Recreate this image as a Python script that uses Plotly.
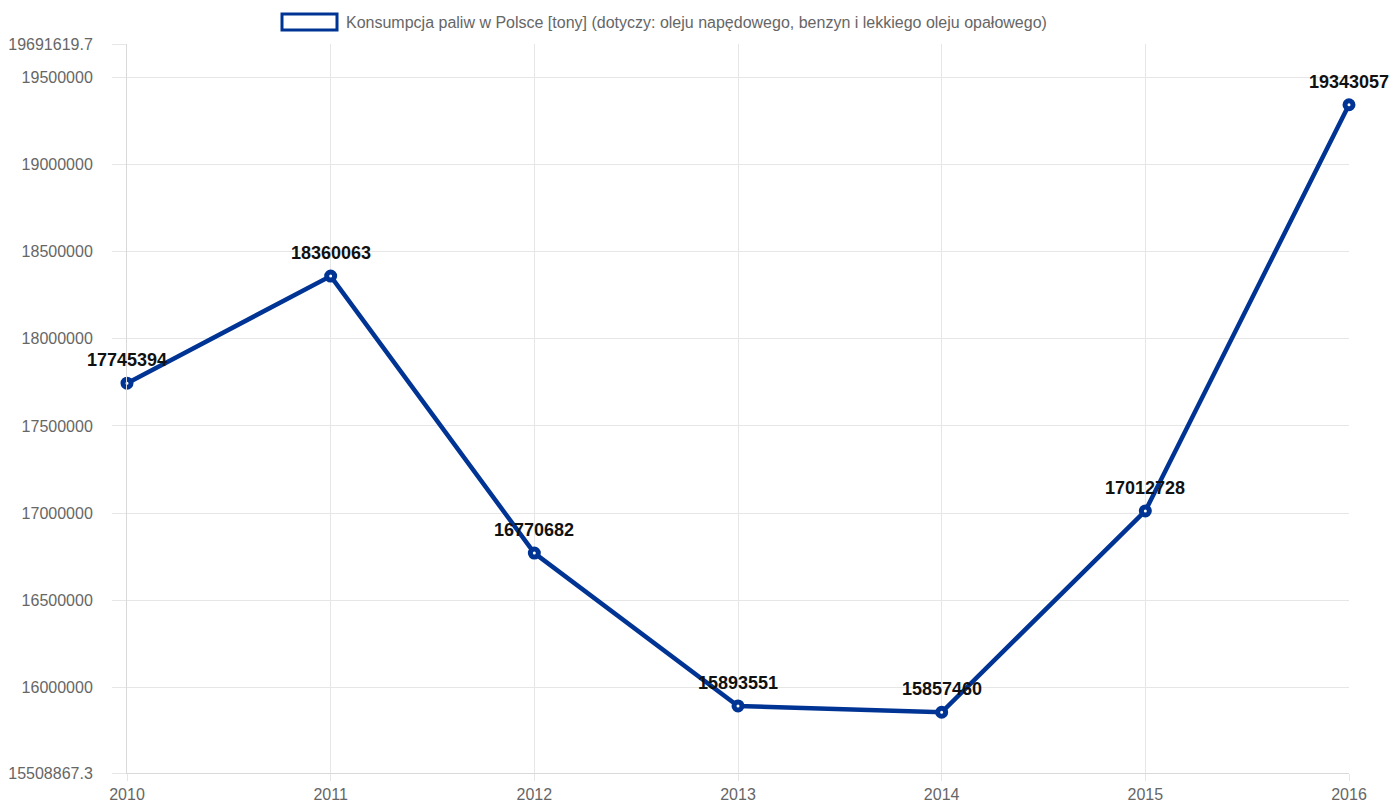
import plotly.graph_objects as go

years = ["2010", "2011", "2012", "2013", "2014", "2015", "2016"]
values = [17745394, 18360063, 16770682, 15893551, 15857460, 17012728, 19343057]
series_name = "Konsumpcja paliw w Polsce [tony] (dotyczy: oleju napędowego, benzyn i lekkiego oleju opałowego)"
y_min = 15508867.3
y_max = 19691619.7
y_ticks = [15508867.3, 16000000, 16500000, 17000000, 17500000, 18000000, 18500000, 19000000, 19500000, 19691619.7]
y_ticktext = ["15508867.3", "16000000", "16500000", "17000000", "17500000", "18000000", "18500000", "19000000", "19500000", "19691619.7"]

BLUE = "#003494"
GRID = "#e6e6e6"
FONT = "Liberation Sans, Arial, Helvetica, sans-serif"

fig = go.Figure()
fig.add_trace(go.Scatter(
    x=list(range(len(years))), y=values,
    mode="lines+markers",
    line=dict(color=BLUE, width=4.5),
    marker=dict(size=8, color="white", line=dict(color=BLUE, width=5)),
    showlegend=False,
    cliponaxis=False,
))

for i, v in enumerate(values):
    fig.add_annotation(x=i, y=v, text=str(v), showarrow=False,
                       yshift=23, xanchor="center", yanchor="middle",
                       font=dict(family=FONT, size=18, color="#111111", weight="bold"))

fig.update_xaxes(
    range=[0, len(years) - 1],
    tickvals=list(range(len(years))), ticktext=years,
    showgrid=True, gridcolor=GRID, gridwidth=1,
    ticks="outside", ticklen=7, tickcolor=GRID,
    showline=True, linecolor="#d9d9d9", linewidth=1,
    zeroline=False, automargin=False,
    tickfont=dict(family=FONT, size=16, color="#666666"),
)
fig.update_yaxes(
    range=[y_min, y_max],
    tickvals=y_ticks, ticktext=y_ticktext,
    showgrid=True, gridcolor=GRID, gridwidth=1,
    ticks="outside", ticklen=14, tickcolor=GRID,
    ticklabelstandoff=16,
    showline=True, linecolor="#d9d9d9", linewidth=1,
    zeroline=False, automargin=False,
    tickfont=dict(family=FONT, size=16, color="#666666"),
)

# legend drawn as in original (box + label)
fig.add_shape(type="rect", xref="paper", yref="paper",
              x0=(282 - 127) / 1222, x1=(337 - 127) / 1222,
              y0=1 + (44 - 30) / 729, y1=1 + (44 - 14) / 729,
              line=dict(color=BLUE, width=3), fillcolor="white")
fig.add_annotation(xref="paper", yref="paper",
                   x=(344 - 127) / 1222, y=1 + (44 - 22) / 729,
                   xanchor="left", yanchor="middle", showarrow=False,
                   text=series_name,
                   font=dict(family=FONT, size=16, color="#666666"))

fig.update_layout(
    width=1396, height=802,
    margin=dict(l=127, r=47, t=44, b=29),
    paper_bgcolor="white", plot_bgcolor="white",
    font=dict(family=FONT),
)

fig.write_html("out.html")
